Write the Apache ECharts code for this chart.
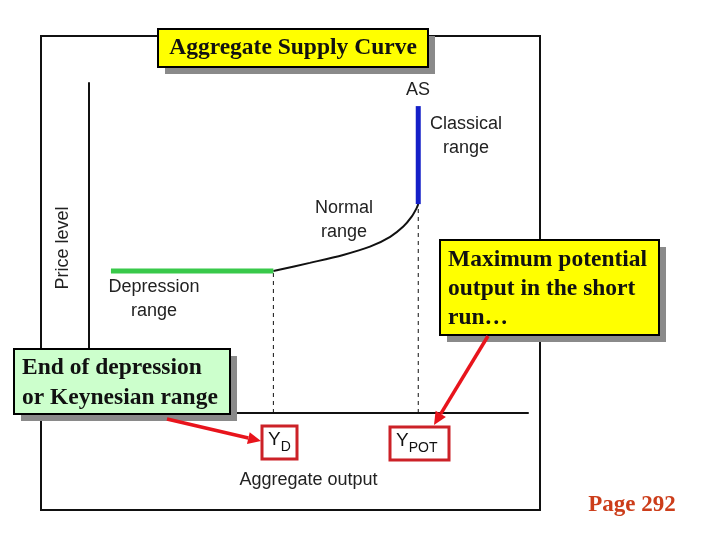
<!DOCTYPE html>
<html>
<head>
<meta charset="utf-8">
<script src="https://cdn.jsdelivr.net/npm/echarts@6/dist/echarts.min.js"></script>
<style>
  html, body { margin: 0; padding: 0; background: #fff; }
  #chart { width: 720px; height: 540px; }
</style>
</head>
<body>
<div id="chart"></div>
<script>
// curve pieces (x = output, y = price level, 0..100)
const depressionRange = [[5, 43], [42, 43]];
const normalRange = [[42, 43], [50.3, 45.5], [57.9, 47.9], [64, 50.4], [68.6, 53.4], [71.6, 56.5], [73.5, 59.5], [74.6, 62], [75, 63.3]];
const classicalRange = [[75, 63.3], [75, 93]];
const yD = 42;
const yPot = 75;

const sans = 'Liberation Sans';
const serif = 'Liberation Serif';

const myChart = echarts.init(document.getElementById('chart'));

// box with a flat grey drop shadow, like the slide callouts
function callout(x, y, w, h, fill, lines, firstMid, lineH, center) {
    const els = [
        { type: 'rect', z: 100, shape: { x: x + 7, y: y + 7, width: w, height: h }, style: { fill: '#8a8a8a' } },
        { type: 'rect', z: 101, shape: { x: x, y: y, width: w, height: h }, style: { fill: fill, stroke: '#000', lineWidth: 2 } }
    ];
    lines.forEach((t, i) => {
        els.push({
            type: 'text', z: 102, x: center ? x + w / 2 : x + 8, y: firstMid + i * lineH,
            style: { text: t, font: 'bold 23.5px "' + serif + '"', fill: '#111', align: center ? 'center' : 'left', verticalAlign: 'middle' }
        })
    });
    return els
}

function arrow(x1, y1, x2, y2) {
    const a = Math.atan2(y2 - y1, x2 - x1);
    const len = 13, wid = 6;
    const bx = x2 - len * Math.cos(a), by = y2 - len * Math.sin(a);
    return [
        { type: 'line', z: 110, shape: { x1: x1, y1: y1, x2: bx, y2: by }, style: { stroke: '#e8141c', lineWidth: 3.5 } },
        { type: 'polygon', z: 110, shape: { points: [[x2, y2], [bx - wid * Math.sin(a), by + wid * Math.cos(a)], [bx + wid * Math.sin(a), by - wid * Math.cos(a)]] }, style: { fill: '#e8141c' } }
    ]
}

function label(cx, cy, t) {
    return { type: 'text', x: cx, y: cy, z: 50, style: { text: t, font: '18px "' + sans + '"', fill: '#222', align: 'center', verticalAlign: 'middle', lineHeight: 24 } }
}

function yBox(x, y, w, sub) {
    return [
        { type: 'rect', z: 60, shape: { x: x, y: y, width: w, height: 33 }, style: { fill: '#fff', stroke: '#cc2127', lineWidth: 3 } },
        { type: 'text', z: 61, x: x + 6, y: y + 4, style: {
            text: '{y|Y}{s|' + sub + '}',
            rich: {
                y: { font: '19px "' + sans + '"', fill: '#111', verticalAlign: 'top' },
                s: { font: '14px "' + sans + '"', fill: '#111', padding: [10, 0, 0, 0] }
            }
        } }
    ]
}

const lineBase = { type: 'line', symbol: 'none', animation: false, clip: false };

myChart.setOption({
    backgroundColor: '#fff',
    animation: false,
    grid: { left: 89, top: 83, width: 439, height: 330 },
    xAxis: {
        type: 'value', min: 0, max: 100,
        name: 'Aggregate output', nameLocation: 'middle', nameGap: 58,
        nameTextStyle: { fontFamily: sans, fontSize: 18, color: '#222' },
        axisLine: { show: true, lineStyle: { color: '#111', width: 2 } },
        axisTick: { show: false }, axisLabel: { show: false }, splitLine: { show: false }
    },
    yAxis: {
        type: 'value', min: 0, max: 100,
        name: 'Price level', nameLocation: 'middle', nameGap: 17, nameRotate: 90,
        nameTextStyle: { fontFamily: sans, fontSize: 18, color: '#222' },
        axisLine: { show: true, lineStyle: { color: '#111', width: 2 } },
        axisTick: { show: false }, axisLabel: { show: false }, splitLine: { show: false }
    },
    series: [
        Object.assign({}, lineBase, { data: [[yD, 0], depressionRange[1]], lineStyle: { color: '#111', width: 1, type: [4, 4] } }),
        Object.assign({}, lineBase, { data: [[yPot, 0], classicalRange[0]], lineStyle: { color: '#111', width: 1, type: [4, 4] } }),
        Object.assign({}, lineBase, { data: normalRange, smooth: 0.3, lineStyle: { color: '#111', width: 2 } }),
        Object.assign({}, lineBase, { data: depressionRange, lineStyle: { color: '#39c94a', width: 5 }, z: 3 }),
        Object.assign({}, lineBase, { data: classicalRange, lineStyle: { color: '#1520c8', width: 5 }, z: 3 })
    ],
    graphic: [].concat(
        // slide frame
        [{ type: 'rect', z: 1, shape: { x: 41, y: 36, width: 499, height: 474 }, style: { fill: 'none', stroke: '#111', lineWidth: 2 } }],
        [label(418, 90, 'AS'),
         label(466, 136, 'Classical\nrange'),
         label(344, 220, 'Normal\nrange'),
         label(154, 299, 'Depression\nrange')],
        yBox(262, 426, 35, 'D'),
        yBox(390, 427, 59, 'POT'),
        callout(158, 29, 270, 38, '#ffff00', ['Aggregate Supply Curve'], 48, 29, true),
        callout(440, 240, 219, 95, '#ffff00', ['Maximum potential', 'output in the short', 'run\u2026'], 260, 29, false),
        callout(14, 349, 216, 65, '#ccffcc', ['End of depression', 'or Keynesian range'], 368, 30, false),
        arrow(167, 419, 261, 441),
        arrow(488, 336, 434, 425),
        [{ type: 'text', x: 632, y: 505, style: { text: 'Page 292', font: 'bold 23px "' + serif + '"', fill: '#cc3d1a', align: 'center', verticalAlign: 'middle' } }]
    )
});
</script>
</body>
</html>
